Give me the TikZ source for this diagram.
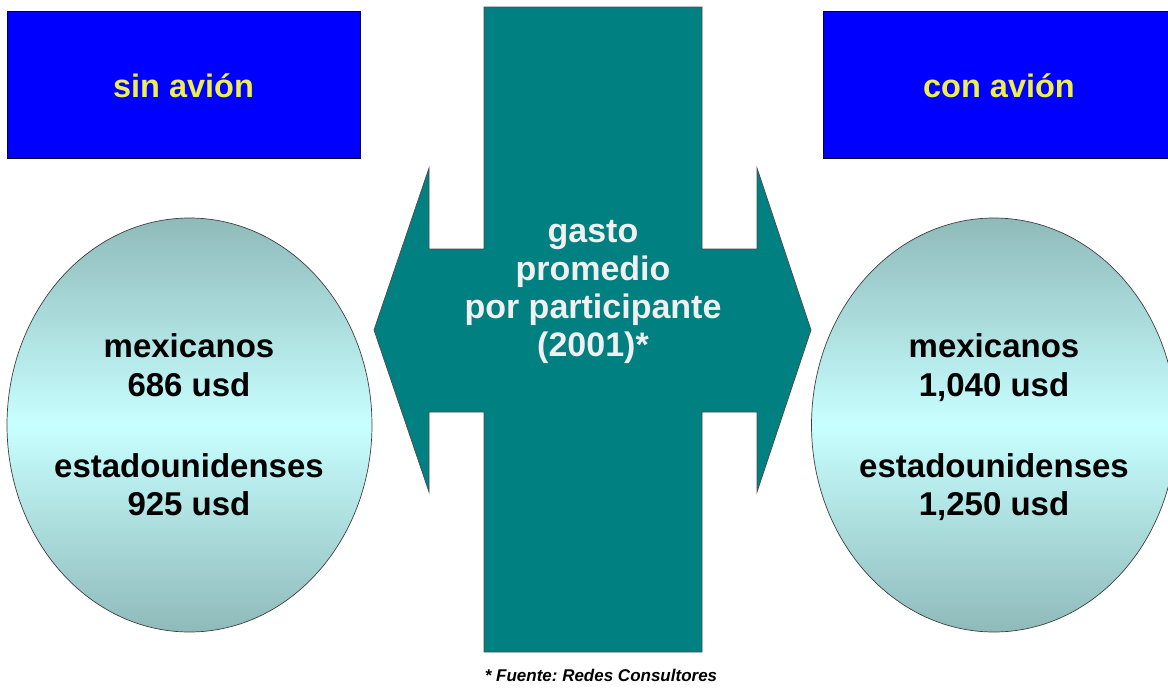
\documentclass[tikz,border=0pt]{standalone}
\usepackage{fontspec}
\setmainfont{Liberation Sans}
\usetikzlibrary{shapes.geometric}
\frenchspacing
\definecolor{boxblue}{RGB}{0,0,255}
\definecolor{boxtext}{RGB}{238,238,80}
\definecolor{arrowteal}{RGB}{0,128,128}
\definecolor{ellend}{RGB}{143,186,186}
\definecolor{ellmid}{RGB}{200,255,255}
\definecolor{centertext}{RGB}{240,240,240}
\tikzset{
  headbox/.style={draw=black!80!blue, line width=0.8pt, fill=boxblue},
  headtext/.style={text=boxtext, font=\bfseries\fontsize{32.5}{39}\selectfont, anchor=base, inner sep=0pt},
  valellipse/.style={ellipse, draw=black!75, line width=0.7pt, top color=ellend, bottom color=ellend, middle color=ellmid, inner sep=0pt},
  valtext/.style={text=black, font=\bfseries\fontsize{33}{39}\selectfont, anchor=base, inner sep=0pt},
  ctrtext/.style={text=centertext, font=\bfseries\fontsize{34}{38}\selectfont, anchor=base, inner sep=0pt},
  crossarrow/.style={fill=arrowteal, draw=black!70, line width=0.7pt},
}
\begin{document}
\begin{tikzpicture}[x=1pt,y=-1pt]
\useasboundingbox (0,0) rectangle (1168,688);
\fill[white] (0,0) rectangle (1168,688);

% header boxes
\draw[headbox] (7,11) rectangle (360,158);
\node[headtext] (sin) at (183.5,97) {sin avión};
\draw[headbox] (823,11) rectangle (1180,158);
\node[headtext] (con) at (999,97) {con avión};

% central double arrow / cross
\draw[crossarrow] (484,7) -- (702,7) -- (702,249) -- (757,249) -- (757,168)
  -- (811,330) -- (757,492) -- (757,412) -- (702,412) -- (702,652)
  -- (484,652) -- (484,412) -- (429,412) -- (429,492) -- (374,330)
  -- (429,168) -- (429,249) -- (484,249) -- cycle;
\node[ctrtext] (c1) at (593,242) {gasto};
\node[ctrtext] (c2) at (593,280) {promedio};
\node[ctrtext] (c3) at (593,318) {por participante};
\node[ctrtext] (c4) at (593,356) {(2001)*};

% ellipses
\node[valellipse, minimum width=365pt, minimum height=414pt] (le) at (189.5,425) {};
\node[valellipse, minimum width=365pt, minimum height=414pt] (re) at (994,425) {};

\node[valtext] (l1) at (189,357) {mexicanos};
\node[valtext] (l2) at (189,396) {686 usd};
\node[valtext] (l3) at (189,477) {estadounidenses};
\node[valtext] (l4) at (189,515) {925 usd};

\node[valtext] (r1) at (994,357) {mexicanos};
\node[valtext] (r2) at (994,396) {1,040 usd};
\node[valtext] (r3) at (994,477) {estadounidenses};
\node[valtext] (r4) at (994,515) {1,250 usd};

% footnote
\node[font=\bfseries\itshape\fontsize{17}{20}\selectfont, anchor=base, inner sep=0pt] (src) at (601,681) {* Fuente: Redes Consultores};
\end{tikzpicture}
\end{document}
